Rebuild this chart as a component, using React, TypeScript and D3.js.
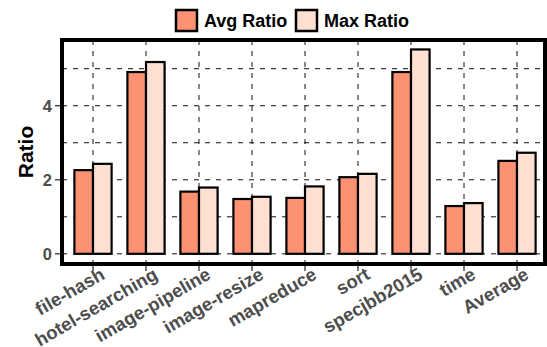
import React, { useEffect, useRef } from "react";
import * as d3 from "d3";

const categories = [
  "file-hash",
  "hotel-searching",
  "image-pipeline",
  "image-resize",
  "mapreduce",
  "sort",
  "specjbb2015",
  "time",
  "Average",
];
const avgRatio = [2.26, 4.91, 1.68, 1.48, 1.51, 2.07, 4.91, 1.29, 2.51];
const maxRatio = [2.43, 5.18, 1.79, 1.54, 1.82, 2.16, 5.52, 1.37, 2.73];
const seriesNames = ["Avg Ratio", "Max Ratio"];
const seriesColors = ["#FC9272", "#FEE0D2"];
const yTicks = [0, 2, 4];
const yGrid = [0, 1, 2, 3, 4, 5];

const W = 547;
const H = 347;
const FONT = "'Liberation Sans', Arial, sans-serif";

const App = () => {
  const svgRef = useRef<SVGSVGElement>(null);

  useEffect(() => {
    const svg = d3.select(svgRef.current);
    svg.selectAll("*").remove();

    const panel = { left: 62, right: 545, top: 40, bottom: 264 };

    const x = d3.scalePoint<string>().domain(categories).range([93, 517]);
    const inner = d3
      .scaleBand<number>()
      .domain([0, 1])
      .range([-18.6, 18.6])
      .padding(0);
    const y = d3
      .scaleLinear()
      .domain([-0.275, 5.775])
      .range([panel.bottom, panel.top]);

    // grid
    const grid = svg.append("g");
    grid
      .selectAll(".hgrid")
      .data(yGrid)
      .enter()
      .append("line")
      .attr("x1", panel.left)
      .attr("x2", panel.right)
      .attr("y1", (d) => y(d))
      .attr("y2", (d) => y(d))
      .attr("stroke", "#111")
      .attr("stroke-width", 1)
      .attr("stroke-dasharray", "5,6");
    grid
      .selectAll(".vgrid")
      .data(categories)
      .enter()
      .append("line")
      .attr("x1", (d) => x(d)!)
      .attr("x2", (d) => x(d)!)
      .attr("y1", panel.top)
      .attr("y2", panel.bottom)
      .attr("stroke", "#111")
      .attr("stroke-width", 1)
      .attr("stroke-dasharray", "5,6");

    // bars
    const series = [avgRatio, maxRatio];
    series.forEach((vals, si) => {
      svg
        .append("g")
        .selectAll("rect")
        .data(categories)
        .enter()
        .append("rect")
        .attr("x", (d) => x(d)! + inner(si)!)
        .attr("y", (d, i) => y(vals[i]))
        .attr("width", inner.bandwidth())
        .attr("height", (d, i) => y(0) - y(vals[i]))
        .attr("fill", seriesColors[si])
        .attr("stroke", "#000")
        .attr("stroke-width", 2.2);
    });

    // panel border
    svg
      .append("rect")
      .attr("x", panel.left)
      .attr("y", panel.top)
      .attr("width", panel.right - panel.left)
      .attr("height", panel.bottom - panel.top)
      .attr("fill", "none")
      .attr("stroke", "#000")
      .attr("stroke-width", 4);

    // y axis ticks + labels
    const yAxis = svg.append("g");
    yAxis
      .selectAll("line")
      .data(yTicks)
      .enter()
      .append("line")
      .attr("x1", panel.left - 7)
      .attr("x2", panel.left - 2)
      .attr("y1", (d) => y(d))
      .attr("y2", (d) => y(d))
      .attr("stroke", "#333")
      .attr("stroke-width", 1.3);
    yAxis
      .selectAll("text")
      .data(yTicks)
      .enter()
      .append("text")
      .attr("x", panel.left - 10)
      .attr("y", (d) => y(d))
      .attr("dy", "0.36em")
      .attr("text-anchor", "end")
      .attr("fill", "#4D4D4D")
      .attr("font-family", FONT)
      .attr("font-weight", "bold")
      .attr("font-size", 16.5)
      .text((d) => d);

    svg
      .append("text")
      .attr("transform", `translate(33,${(panel.top + panel.bottom) / 2}) rotate(-90)`)
      .attr("text-anchor", "middle")
      .attr("font-family", FONT)
      .attr("font-weight", "bold")
      .attr("font-size", 21)
      .attr("fill", "#000")
      .text("Ratio");

    // x axis ticks + labels
    const xAxis = svg.append("g");
    xAxis
      .selectAll("line")
      .data(categories)
      .enter()
      .append("line")
      .attr("x1", (d) => x(d)!)
      .attr("x2", (d) => x(d)!)
      .attr("y1", panel.bottom + 2)
      .attr("y2", panel.bottom + 7)
      .attr("stroke", "#333")
      .attr("stroke-width", 1.3);
    xAxis
      .selectAll("text")
      .data(categories)
      .enter()
      .append("text")
      .attr("transform", (d) => `translate(${x(d)! + 13},${panel.bottom + 14}) rotate(-30)`)
      .attr("text-anchor", "end")
      .attr("fill", "#4D4D4D")
      .attr("font-family", FONT)
      .attr("font-weight", "bold")
      .attr("font-size", 18.5)
      .text((d) => d);

    // legend
    const legend = svg.append("g");
    const legendX = [175, 295];
    seriesNames.forEach((name, i) => {
      legend
        .append("rect")
        .attr("x", legendX[i] + 1)
        .attr("y", 10)
        .attr("width", 21)
        .attr("height", 21)
        .attr("fill", seriesColors[i])
        .attr("stroke", "#000")
        .attr("stroke-width", 2.5);
      legend
        .append("text")
        .attr("x", legendX[i] + 29)
        .attr("y", 27)
        .attr("font-family", FONT)
        .attr("font-weight", "bold")
        .attr("font-size", 18)
        .attr("fill", "#000")
        .text(name);
    });
  }, []);

  return (
    <svg
      ref={svgRef}
      width={W}
      height={H}
      style={{ position: "absolute", left: 0, top: 0, background: "#fff" }}
    />
  );
};

export default App;
